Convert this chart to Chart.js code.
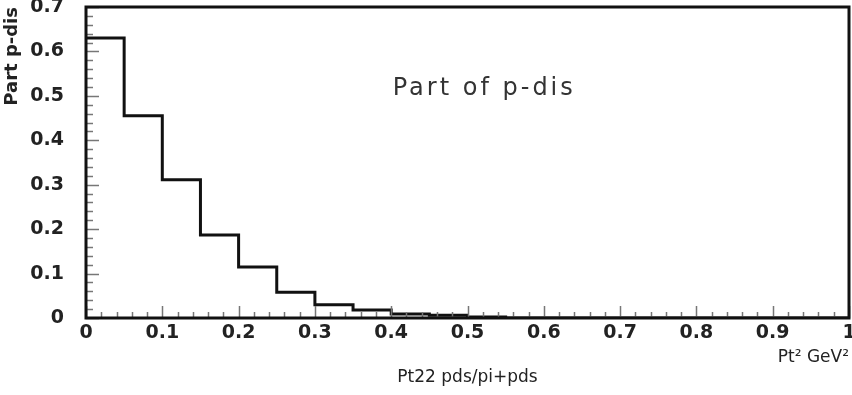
<!DOCTYPE html>
<html>
<head>
<meta charset="utf-8">
<script src="https://cdn.jsdelivr.net/npm/chart.js@4/dist/chart.umd.min.js"></script>
<style>
  html, body { margin: 0; padding: 0; background: #fff; }
  #wrap { width: 852px; height: 395px; }
</style>
</head>
<body>
<div id="wrap"><canvas id="c" width="852" height="395"></canvas></div>
<script>
// Histogram bins (left edges, width 0.05) and their contents
const binStart = [0, 0.05, 0.10, 0.15, 0.20, 0.25, 0.30, 0.35, 0.40, 0.45,
                  0.50, 0.55, 0.60, 0.65, 0.70, 0.75, 0.80, 0.85, 0.90, 0.95];
const binWidth = 0.05;
const partValues = [0.630, 0.455, 0.311, 0.187, 0.115, 0.058, 0.030, 0.018, 0.009, 0.006,
                    0.002, 0, 0, 0, 0, 0, 0, 0, 0, 0];
const xTitle = 'Pt² GeV²';
const yTitle = 'Part p-dis';
const bottomTitle = 'Pt22 pds/pi+pds';
const annotation = 'Part of p-dis';

const points = binStart.map((x, i) => ({ x: x, y: partValues[i] }));
points.push({ x: binStart[binStart.length - 1] + binWidth, y: partValues[partValues.length - 1] });

const tickFont = { family: 'DejaVu Sans', size: 19, weight: 'bold' };
const fmt = v => String(+(+v).toFixed(2));

const framePlugin = {
  id: 'frame',
  afterDatasetsDraw(chart) {
    const { ctx, chartArea: a, scales } = chart;
    const xs = scales.x, ys = scales.y;
    ctx.save();
    // inward tick marks
    ctx.strokeStyle = '#777';
    ctx.lineWidth = 1.5;
    for (let k = 0; k <= 50; k++) {
      const v = k * 0.02;
      const px = Math.round(xs.getPixelForValue(v)) + 0.5;
      const len = (k % 5 === 0) ? 12 : 6;
      ctx.beginPath();
      ctx.moveTo(px, a.bottom);
      ctx.lineTo(px, a.bottom - len);
      ctx.stroke();
    }
    for (let k = 0; k <= 35; k++) {
      const v = k * 0.02;
      const py = Math.round(ys.getPixelForValue(v)) + 0.5;
      const len = (k % 5 === 0) ? 13 : 7;
      ctx.beginPath();
      ctx.moveTo(a.left, py);
      ctx.lineTo(a.left + len, py);
      ctx.stroke();
    }
    // frame
    ctx.strokeStyle = '#111';
    ctx.lineWidth = 3;
    ctx.strokeRect(a.left, a.top, a.right - a.left, a.bottom - a.top);
    // annotation text
    ctx.fillStyle = '#333';
    ctx.font = '24px "DejaVu Sans"';
    ctx.letterSpacing = '3px';
    ctx.textAlign = 'left';
    ctx.textBaseline = 'middle';
    ctx.fillText(annotation, xs.getPixelForValue(0.402), ys.getPixelForValue(0.515));
    ctx.restore();
  }
};

new Chart(document.getElementById('c'), {
  type: 'line',
  data: {
    datasets: [{
      data: points,
      stepped: 'before',
      borderColor: '#111',
      borderWidth: 3,
      borderJoinStyle: 'miter',
      pointRadius: 0,
      fill: false
    }]
  },
  options: {
    responsive: false,
    animation: false,
    devicePixelRatio: 1,
    layout: { padding: { top: 7, right: 3, left: 0, bottom: 0 } },
    plugins: {
      legend: { display: false },
      tooltip: { enabled: false },
      title: {
        display: true,
        text: bottomTitle,
        position: 'bottom',
        fullSize: false,
        color: '#222',
        font: { family: 'DejaVu Sans', size: 17, weight: 'normal' },
        padding: { top: 0, bottom: 7 }
      }
    },
    scales: {
      x: {
        type: 'linear',
        min: 0, max: 1,
        grid: { display: false, drawTicks: false },
        border: { display: false },
        ticks: { stepSize: 0.1, color: '#222', font: tickFont, padding: 4, maxRotation: 0, autoSkip: false, callback: fmt },
        title: {
          display: true, text: xTitle, align: 'end', color: '#222',
          font: { family: 'DejaVu Sans', size: 17, weight: 'normal' },
          padding: { top: 0, bottom: 0 }
        },
        afterFit(s) { s.height = 49.6; s.paddingLeft = 0; s.paddingRight = 0; }
      },
      y: {
        type: 'linear',
        min: 0, max: 0.7,
        grid: { display: false, drawTicks: false },
        border: { display: false },
        ticks: { stepSize: 0.1, color: '#222', font: tickFont, padding: 22, callback: fmt },
        title: {
          display: true, text: yTitle, align: 'end', color: '#222',
          font: { family: 'DejaVu Sans', size: 18, weight: 'bold' },
          padding: { top: 2, bottom: 0 }
        },
        afterFit(s) { s.width = 86; s.paddingTop = 0; s.paddingBottom = 0; }
      }
    }
  },
  plugins: [framePlugin]
});
</script>
</body>
</html>
